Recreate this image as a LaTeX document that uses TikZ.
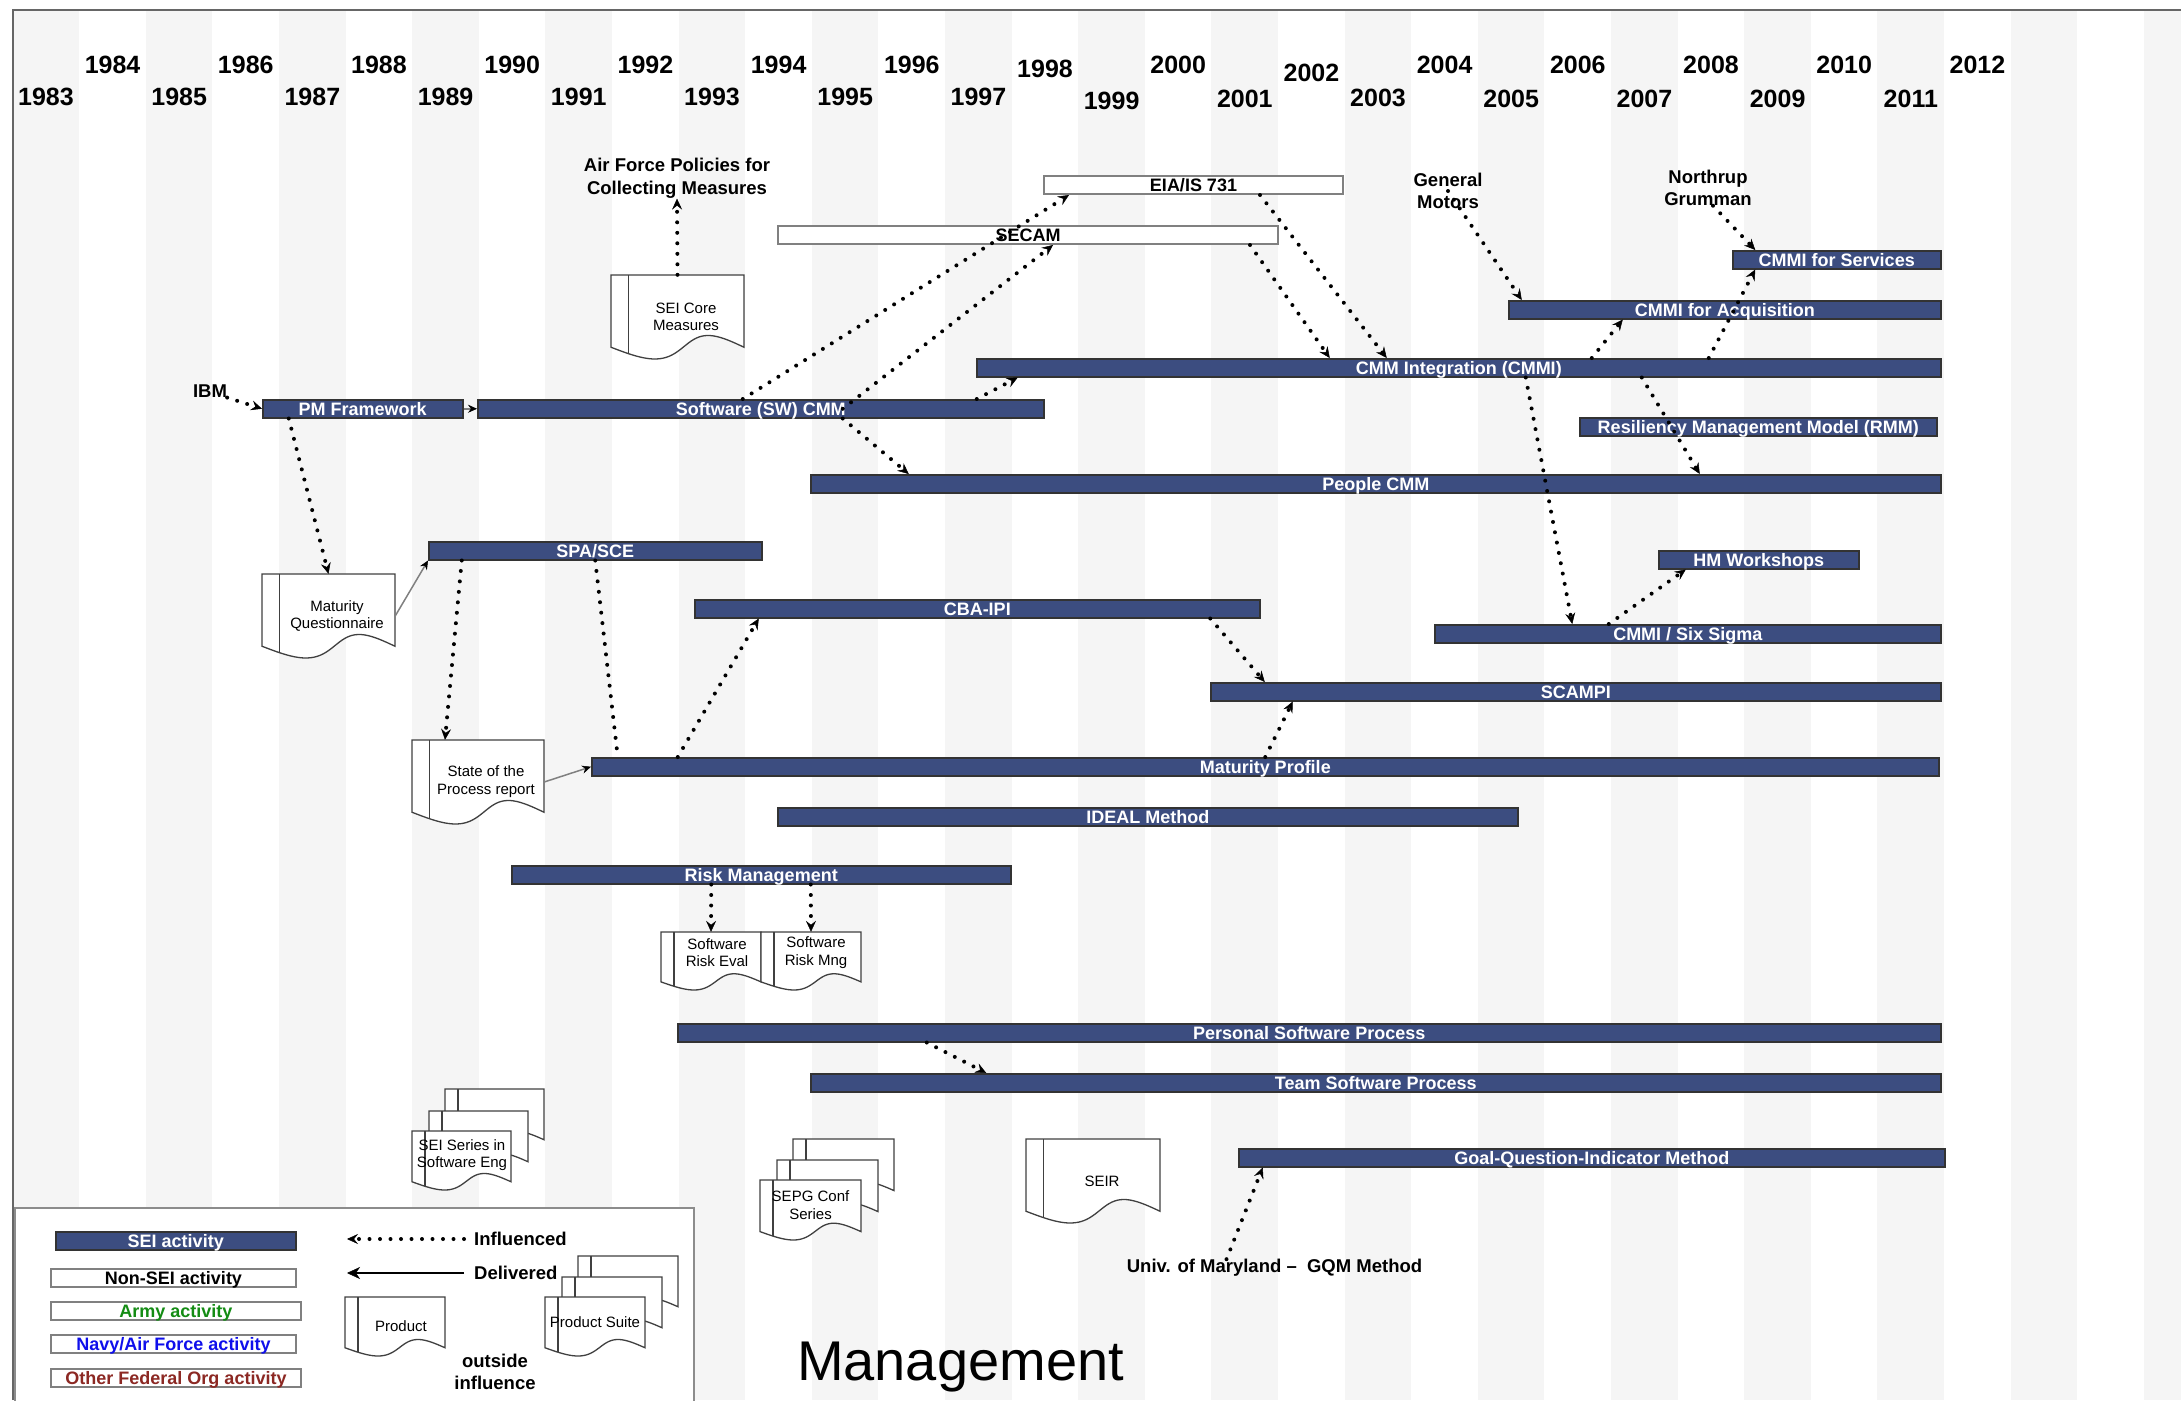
\documentclass[tikz,border=0pt]{standalone}
\usepackage{fontspec}
\setmainfont{Liberation Sans}
\usetikzlibrary{arrows.meta}

\definecolor{seiblue}{RGB}{60,77,128}
\definecolor{stripegray}{RGB}{245,245,245}
\definecolor{armygreen}{RGB}{20,140,20}
\definecolor{navyblue}{RGB}{15,15,235}
\definecolor{fedred}{RGB}{140,40,35}

\newcommand\yearfont{\fontsize{25}{28}\selectfont\bfseries}
\newcommand\barfont{\fontsize{18}{20}\selectfont\bfseries}
\newcommand\notefont{\fontsize{18.5}{22.5}\selectfont\bfseries}
\newcommand\docfont{\fontsize{15}{17.5}\selectfont}

\tikzset{
  seibar/.style={draw=black!80, line width=1.5pt, fill=seiblue, text=white,
    inner sep=0pt, font=\barfont, text height=13pt, text depth=0pt,
    minimum height=18pt, anchor=north west},
  otherbar/.style={seibar, draw=black!50, line width=2pt, fill=white, text=black},
  yearlbl/.style={font=\yearfont, inner sep=0pt},
  note/.style={font=\notefont, inner sep=0pt, align=center},
  docline/.style={draw=black!75, line width=1.3pt, fill=white},
  docbox/.style={inner sep=0pt, draw=none},
  doctext/.style={font=\docfont, inner sep=0pt, align=center},
  infl/.style={line width=4pt, line cap=round, dash pattern=on 0pt off 10.5pt,
    -{Stealth[length=11pt, width=10pt, inset=4pt, line width=0.5pt]}},
  inflplain/.style={line width=4pt, line cap=round, dash pattern=on 0pt off 10.5pt},
  dlv/.style={draw=black!50, line width=1.5pt,
    -{Stealth[length=9pt, width=8pt, inset=3pt, line width=0.5pt, color=black]}},
  dlvkey/.style={draw=black, line width=2.5pt,
    -{Stealth[length=13pt, width=12pt, inset=4pt, line width=0.5pt]}},
  legbox/.style={draw=black!45, line width=1.5pt, fill=white, inner sep=0pt, anchor=north west}
}

% document sheet with a wavy lower edge: name, left, top, width, height, text dx, text dy, text
\newcommand\docsheet[8]{%
  \begin{scope}[shift={(#2,#3)}]
    \filldraw[docline] (0,0) -- (#4,0) -- (#4,{0.86*#5})
      -- plot[domain=1:0, samples=40] ({(\x+0.0424*sin(180*\x)+0.05*sin(360*\x))*#4},{(0.86+0.14*sin(360*\x))*#5})
      -- cycle;
    \begin{scope}
      \clip (0,0) -- (#4,0) -- (#4,{0.86*#5})
        -- plot[domain=1:0, samples=40] ({(\x+0.0424*sin(180*\x)+0.05*sin(360*\x))*#4},{(0.86+0.14*sin(360*\x))*#5})
        -- cycle;
      \draw[draw=black!75, line width=1.3pt] ({0.13*#4},0) -- ({0.13*#4},#5);
    \end{scope}
    \node[docbox, minimum width=#4pt, minimum height=#5pt] (#1) at ({#4/2},{#5/2}) {};
    \node[doctext] (#1-t) at ({#4/2+#6},{#5/2+#7}) {#8};
  \end{scope}}

\begin{document}
\begin{tikzpicture}[x=1pt, y=-1pt]
\path[use as bounding box] (0,0) rectangle (2181,1400);

% year stripes and frame
\begin{scope}
  \clip (0,0) rectangle (2181,1400);
  \foreach \i in {0,2,...,32}
    \fill[stripegray] ({12.6+\i*66.6},10) rectangle ({12.6+(\i+1)*66.6},1400);
\end{scope}
\draw[black!60, line width=2pt] (12.6,1400) -- (12.6,10) -- (2181,10);

% year labels
\foreach \yr/\yy in {1983/97,1984/65,1985/97,1986/65,1987/97,1988/65,1989/97,1990/65,
  1991/97,1992/65,1993/97,1994/65,1995/97,1996/65,1997/97,1998/69,1999/101,2000/65,
  2001/99,2002/73,2003/98,2004/65,2005/99,2006/65,2007/99,2008/65,2009/99,2010/65,
  2011/99,2012/65}
  \node[yearlbl] (y\yr) at ({46+(\yr-1983)*66.6},\yy) {\yr};

% legend frame
\node[legbox, minimum width=679pt, minimum height=205pt] (legend) at (14,1207) {};

% activity bars
\node[seibar, minimum width=200pt] (pmf) at (262,399) {PM Framework};
\node[seibar, minimum width=566pt] (swcmm) at (477,399) {Software (SW) CMM};
\node[otherbar, minimum width=500pt] (secam) at (777,225) {SECAM};
\node[otherbar, minimum width=299pt] (eia) at (1043,175) {EIA/IS 731};
\node[seibar, minimum width=964pt] (cmmi) at (976,358) {CMM Integration (CMMI)};
\node[seibar, minimum width=208pt] (cmmisvc) at (1732,250) {CMMI for Services};
\node[seibar, minimum width=432pt] (cmmiacq) at (1508,300) {CMMI for Acquisition};
\node[seibar, minimum width=357pt] (rmm) at (1579,417) {Resiliency Management Model (RMM)};
\node[seibar, minimum width=1130pt] (people) at (810,474) {People CMM};
\node[seibar, minimum width=333pt] (spasce) at (428,541) {SPA/SCE};
\node[seibar, minimum width=565pt] (cbaipi) at (694,599) {CBA-IPI};
\node[seibar, minimum width=200pt] (hmw) at (1658,550) {HM Workshops};
\node[seibar, minimum width=506pt] (sixsigma) at (1434,624) {CMMI / Six Sigma};
\node[seibar, minimum width=730pt] (scampi) at (1210,682) {SCAMPI};
\node[seibar, minimum width=1347pt] (matprof) at (591,757) {Maturity Profile};
\node[seibar, minimum width=740pt] (ideal) at (777,807) {IDEAL Method};
\node[seibar, minimum width=499pt] (risk) at (511,865) {Risk Management};
\node[seibar, minimum width=1263pt] (psp) at (677,1023) {Personal Software Process};
\node[seibar, minimum width=1130pt] (tsp) at (810,1073) {Team Software Process};
\node[seibar, minimum width=706pt] (gqi) at (1238,1148) {Goal-Question-Indicator Method};

% products
\docsheet{seicore}{611}{275}{133}{84}{8.5}{0}{SEI Core\\Measures}
\docsheet{matq}{262}{574}{133}{84}{8.5}{0}{Maturity\\Questionnaire}
\docsheet{state}{412}{740}{132}{84}{8}{-0.5}{State of the\\Process report}
\docsheet{reval}{661}{932}{100}{58}{6}{-8.5}{Software\\Risk Eval}
\docsheet{rmng}{761}{932}{100}{58}{5}{-8.5}{Software\\Risk Mng}
\docsheet{seir}{1026}{1139}{134}{84}{9}{0}{SEIR}
\docsheet{seiser3}{445}{1089}{99}{59}{0}{0}{}
\docsheet{seiser2}{429}{1111}{99}{59}{0}{0}{}
\docsheet{seiser}{412}{1131}{99}{59}{0.5}{-5.5}{SEI Series in\\Software Eng}
\docsheet{sepg3}{793}{1139}{101}{60}{0}{0}{}
\docsheet{sepg2}{777}{1160}{101}{60}{0}{0}{}
\docsheet{sepg}{760}{1180}{101}{60}{0}{-5}{SEPG Conf\\Series}

% outside influences
\node[note] (afp) at (677,178.5) {Air Force Policies for\\Collecting Measures};
\node[note] (ibm) at (210,391) {IBM};
\node[note, font=\fontsize{18.5}{21.5}\selectfont\bfseries] (gm) at (1448,191) {General\\Motors};
\node[note, font=\fontsize{18.5}{21.5}\selectfont\bfseries] (ng) at (1708,188) {Northrup\\Grumman};
\node[note] (umd) at (1274.5,1268) {Univ. of Maryland –~ GQM Method};

% connectors
\draw[infl] (ibm.south east) -- (pmf.west);
\draw[dlv] (pmf.east) -- (swcmm.west);
\draw[infl] (seicore.north) -- (afp.south);
\draw[infl] ([xshift=-18pt]swcmm.north) -- ([xshift=-124.5pt]eia.south);
\draw[infl] ([xshift=82pt]swcmm.center) -- ([xshift=25pt]secam.south);
\draw[infl] ([xshift=216pt]swcmm.north) -- ([xshift=-441pt]cmmi.south);
\draw[infl] ([xshift=82pt]swcmm.south) -- ([xshift=-467pt]people.north);
\draw[infl] ([xshift=66.5pt]eia.south) -- ([xshift=-72pt]cmmi.north);
\draw[infl] ([xshift=222pt]secam.south) -- ([xshift=-129pt]cmmi.north);
\draw[infl] (gm.center) -- ([xshift=-203pt]cmmiacq.north);
\draw[infl] ([xshift=5pt]ng.south) -- ([xshift=-81.5pt]cmmisvc.north);
\draw[infl] ([xshift=133pt]cmmi.north) -- ([xshift=-102pt]cmmiacq.south);
\draw[infl] ([xshift=250pt]cmmi.north) -- ([xshift=-81.5pt]cmmisvc.south);
\draw[infl] ([xshift=183pt]cmmi.south) -- ([xshift=324pt]people.north);
\draw[infl] ([xshift=67pt]cmmi.south) -- ([xshift=-115.5pt]sixsigma.north);
\draw[infl] ([xshift=-79pt]sixsigma.north) -- ([xshift=-73pt]hmw.south);
\draw[infl] ([xshift=233pt]cbaipi.south) -- ([xshift=-311pt]scampi.north);
\draw[infl] (matprof.north) -- ([xshift=-283pt]scampi.south);
\draw[infl] ([xshift=-74pt]pmf.south) -- (matq.north);
\draw[dlv] (matq.east) -- (spasce.south west);
\draw[infl] ([xshift=-133.5pt]spasce.south) -- ([xshift=-33pt]state.north);
\draw[inflplain] (spasce.south) -- ([xshift=-647.5pt]matprof.north);
\draw[infl] ([xshift=-587.5pt]matprof.north) -- ([xshift=-218.5pt]cbaipi.south);
\draw[dlv] (state.east) -- (matprof.west);
\draw[infl] ([xshift=-50pt]risk.south) -- (reval.north);
\draw[infl] ([xshift=49.5pt]risk.south) -- (rmng.north);
\draw[infl] ([xshift=-382.5pt]psp.south) -- ([xshift=-389.5pt]tsp.north);
\draw[infl] ([xshift=-48pt]umd.north) -- ([xshift=-329pt]gqi.south);

% legend
\node[seibar, minimum width=240pt] (lgsei) at (55,1231) {SEI activity};
\node[otherbar, minimum width=245pt] (lgnon) at (50,1268) {Non-SEI activity};
\node[otherbar, minimum width=250pt, text=armygreen] (lgarmy) at (50,1301) {Army activity};
\node[otherbar, minimum width=245pt, text=navyblue] (lgnavy) at (50,1334) {Navy/Air Force activity};
\node[otherbar, minimum width=250pt, text=fedred] (lgfed) at (50,1368) {Other Federal Org activity};
\node[note, anchor=west] (lginfl) at (474,1239) {Influenced};
\node[note, anchor=west] (lgdlv) at (474,1273) {Delivered};
\coordinate (lginflend) at (347,1239);
\coordinate (lgdlvend) at (347,1273);
\draw[infl] ([xshift=-10pt]lginfl.west) -- (lginflend);
\draw[dlvkey] ([xshift=-10pt]lgdlv.west) -- (lgdlvend);
\docsheet{product}{345}{1297}{100}{59}{6}{0}{Product}
\docsheet{psuite3}{578}{1256}{100}{59}{0}{0}{}
\docsheet{psuite2}{562}{1277}{100}{59}{0}{0}{}
\docsheet{psuite}{545}{1297}{100}{59}{0}{-4.5}{Product Suite}
\node[note] (lgout) at (495,1372) {outside\\influence};

% title
\node[inner sep=0pt, anchor=base, font=\fontsize{56}{60}\selectfont] (title) at (960.5,1380) {Management};
\end{tikzpicture}
\end{document}
